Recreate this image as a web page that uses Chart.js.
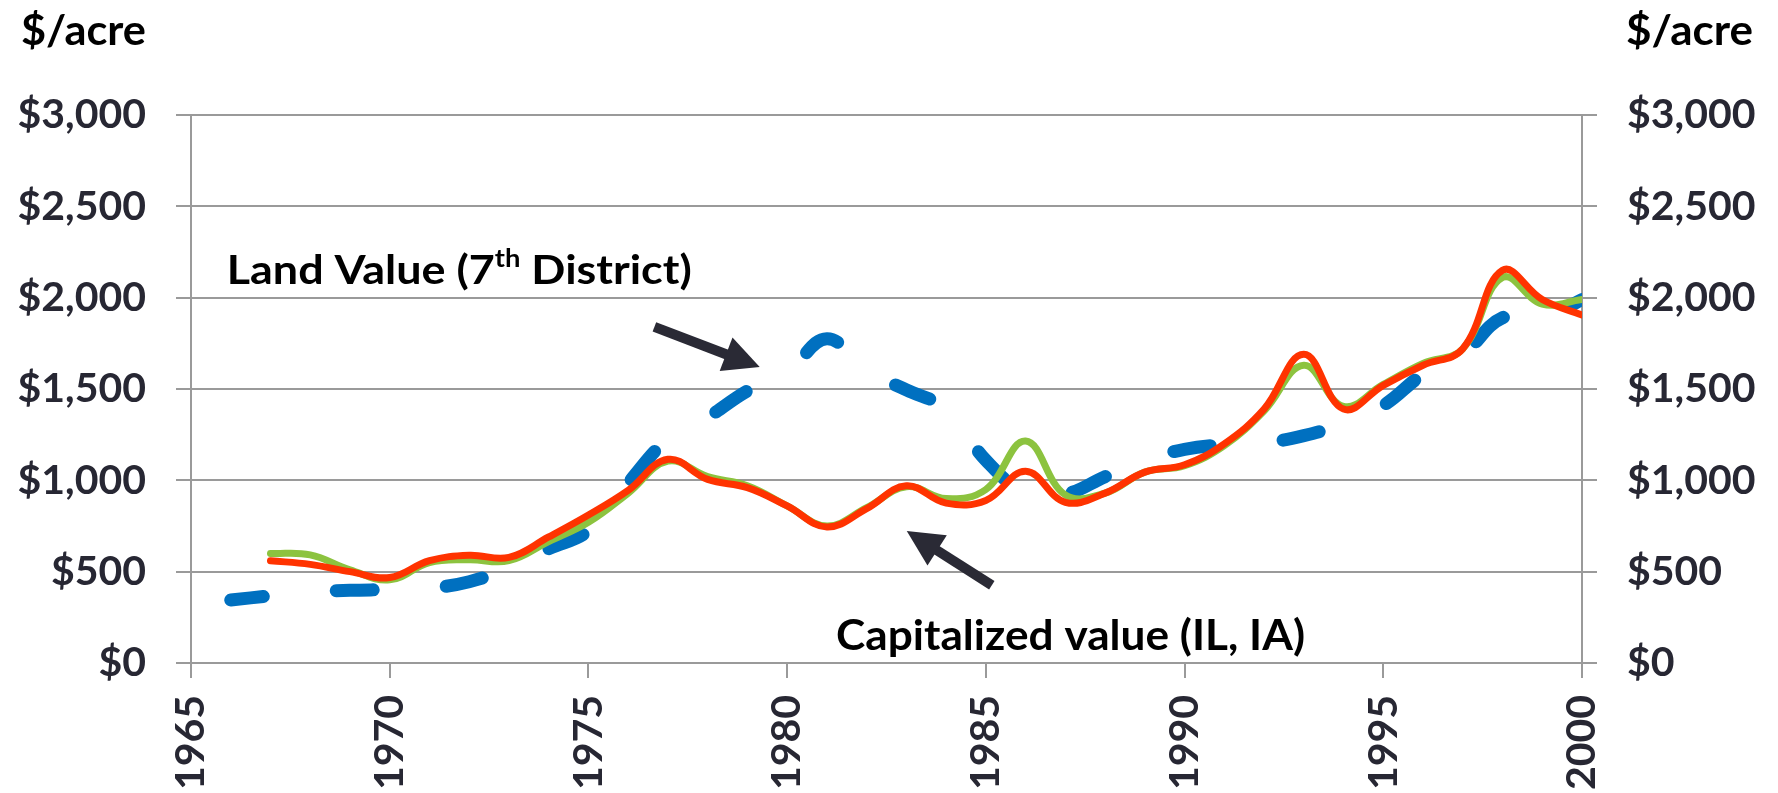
<!DOCTYPE html>
<html><head><meta charset="utf-8">
<script src="https://cdn.jsdelivr.net/npm/chart.js@4.4.1/dist/chart.umd.min.js"></script>
<style>html,body{margin:0;padding:0;background:#fff;}#wrap{position:relative;width:1778px;height:793px;}canvas{display:block;}</style>
</head><body><div id="wrap"><canvas id="c" width="1778" height="793"></canvas></div>
<script>
// ---- data ----
const landYears = [1966,1967,1968,1969,1970,1971,1972,1973,1974,1975,1976,1977,1978,1979,1980,1981,1982,1983,1984,1985,1986,1987,1988,1989,1990,1991,1992,1993,1994,1995,1996,1997,1998,1999,2000];
const landValues = [345,368,388,398,402,410,445,520,625,725,985,1225,1345,1490,1590,1775,1600,1495,1390,1110,935,925,1020,1110,1170,1195,1205,1245,1310,1410,1580,1690,1890,1885,1990];
const capYears = [1967,1968,1969,1970,1971,1972,1973,1974,1975,1976,1977,1978,1979,1980,1981,1982,1983,1984,1985,1986,1987,1988,1989,1990,1991,1992,1993,1994,1995,1996,1997,1998,1999,2000];
const capValuesGreen = [600,592,510,455,550,565,560,665,770,930,1105,1020,970,860,750,850,965,900,950,1215,920,930,1045,1080,1190,1380,1630,1405,1525,1640,1720,2110,1965,1990];
const capValuesRed = [560,540,500,468,560,590,578,690,810,945,1115,1005,960,860,745,845,970,875,890,1050,880,930,1045,1085,1200,1390,1690,1390,1520,1630,1720,2150,1990,1905];
const yTickValues = [0,500,1000,1500,2000,2500,3000];
const xTickValues = [1965,1970,1975,1980,1985,1990,1995,2000];
const unitLabel = '$/acre';
const landLabelParts = ['Land Value (7', 'th', ' District)'];
const capLabel = 'Capitalized value (IL, IA)';

// ---- styling ----
const FONT = 'Lato';
const TICK_COLOR = '#272733';
const GRID = '#9a9a9a';
const ARROW = '#2a2a35';

const toPts = (xs, ys) => xs.map((x, i) => ({x, y: ys[i]}));
const fmtMoney = v => '$' + Number(v).toLocaleString('en-US');

const notes = {
  land: {year: 1965.9, value: 2075, width: 465},
  cap: {year: 1981.23, value: 70, width: 469},
  arrows: [
    {from: [1976.66, 1840], to: [1979.31, 1620]},
    {from: [1985.15, 426], to: [1983.01, 722]}
  ]
};

function drawArrow(ctx, x1, y1, x2, y2) {
  const ang = Math.atan2(y2 - y1, x2 - x1);
  const headLen = 36, headW = 36, shaft = 10;
  const bx = x2 - Math.cos(ang) * headLen, by = y2 - Math.sin(ang) * headLen;
  ctx.save();
  ctx.strokeStyle = ARROW; ctx.fillStyle = ARROW;
  ctx.lineWidth = shaft; ctx.lineCap = 'butt';
  ctx.beginPath(); ctx.moveTo(x1, y1); ctx.lineTo(bx + Math.cos(ang) * 2, by + Math.sin(ang) * 2); ctx.stroke();
  const px = -Math.sin(ang) * headW / 2, py = Math.cos(ang) * headW / 2;
  ctx.beginPath(); ctx.moveTo(x2, y2); ctx.lineTo(bx + px, by + py); ctx.lineTo(bx - px, by - py); ctx.closePath(); ctx.fill();
  ctx.restore();
}

const annot = {
  id: 'annot',
  afterDraw(chart) {
    const ctx = chart.ctx, xs = chart.scales.x, ys = chart.scales.y;
    ctx.save();
    ctx.fillStyle = '#000';
    ctx.textBaseline = 'alphabetic';
    ctx.textAlign = 'left';
    ctx.font = `bold 42px ${FONT}`;
    let w = ctx.measureText(unitLabel).width;
    ctx.save(); ctx.translate(21, 45); ctx.scale(125 / w, 1); ctx.fillText(unitLabel, 0, 0); ctx.restore();
    ctx.save(); ctx.translate(chart.chartArea.right + 44, 45); ctx.scale(127 / w, 1); ctx.fillText(unitLabel, 0, 0); ctx.restore();
    const lx = xs.getPixelForValue(notes.land.year), ly = ys.getPixelForValue(notes.land.value);
    ctx.font = `bold 41px ${FONT}`;
    const w0 = ctx.measureText(landLabelParts[0]).width, w2 = ctx.measureText(landLabelParts[2]).width;
    ctx.font = `bold 25px ${FONT}`;
    const w1 = ctx.measureText(landLabelParts[1]).width;
    const f = notes.land.width / (w0 + w1 + w2);
    ctx.save(); ctx.translate(lx, ly); ctx.scale(f, 1);
    ctx.font = `bold 41px ${FONT}`; ctx.fillText(landLabelParts[0], 0, 0);
    ctx.font = `bold 25px ${FONT}`; ctx.fillText(landLabelParts[1], w0, -17);
    ctx.font = `bold 41px ${FONT}`; ctx.fillText(landLabelParts[2], w0 + w1, 0);
    ctx.restore();
    const cx = xs.getPixelForValue(notes.cap.year), cy = ys.getPixelForValue(notes.cap.value);
    ctx.font = `bold 42px ${FONT}`;
    const cw = ctx.measureText(capLabel).width;
    ctx.save(); ctx.translate(cx, cy); ctx.scale(notes.cap.width / cw, 1); ctx.fillText(capLabel, 0, 0); ctx.restore();
    ctx.restore();
    notes.arrows.forEach(a => drawArrow(ctx,
      xs.getPixelForValue(a.from[0]), ys.getPixelForValue(a.from[1]),
      xs.getPixelForValue(a.to[0]), ys.getPixelForValue(a.to[1])));
  }
};

const tickFont = {family: FONT, size: 41, weight: 'bold'};

new Chart(document.getElementById('c'), {
  type: 'line',
  data: {
    datasets: [
      {label: 'Capitalized value (red)', data: toPts(capYears, capValuesRed), borderColor: '#ff3300', borderWidth: 7, tension: 0.4, pointRadius: 0, order: 0, borderCapStyle: 'round', borderJoinStyle: 'round'},
      {label: 'Capitalized value (green)', data: toPts(capYears, capValuesGreen), borderColor: '#8cc33f', borderWidth: 7, tension: 0.4, pointRadius: 0, order: 1, borderCapStyle: 'round', borderJoinStyle: 'round'},
      {label: 'Land Value (7th District)', data: toPts(landYears, landValues), borderColor: '#0070c0', borderWidth: 13, borderDash: [37, 73], borderDashOffset: 4, borderCapStyle: 'round', borderJoinStyle: 'round', tension: 0.4, pointRadius: 0, order: 2}
    ]
  },
  options: {
    responsive: false, animation: false, devicePixelRatio: 1,
    layout: {padding: {top: 115, left: 0, right: 0, bottom: 0}},
    plugins: {legend: {display: false}, tooltip: {enabled: false}, title: {display: false}},
    scales: {
      x: {
        type: 'linear', position: 'bottom', min: 1965, max: 2000,
        afterBuildTicks: s => { s.ticks = xTickValues.map(v => ({value: v})); },
        afterFit: s => { s.height = 130; },
        grid: {drawOnChartArea: false, drawTicks: true, tickLength: 15, color: GRID, lineWidth: 2},
        border: {display: true, color: GRID, width: 2},
        ticks: {font: tickFont, color: TICK_COLOR, minRotation: 90, maxRotation: 90, autoSkip: false, padding: 17, callback: v => String(v)}
      },
      y: {
        type: 'linear', position: 'left', min: 0, max: 3000,
        afterBuildTicks: s => { s.ticks = yTickValues.map(v => ({value: v})); },
        afterFit: s => { s.width = 191; },
        grid: {color: GRID, lineWidth: 2, tickLength: 15, drawTicks: true},
        border: {display: true, color: GRID, width: 2},
        ticks: {font: tickFont, color: TICK_COLOR, padding: 30, callback: fmtMoney}
      },
      y2: {
        type: 'linear', position: 'right', min: 0, max: 3000,
        afterBuildTicks: s => { s.ticks = yTickValues.map(v => ({value: v})); },
        afterFit: s => { s.width = 196; },
        grid: {drawOnChartArea: false, color: GRID, lineWidth: 2, tickLength: 15, drawTicks: true},
        border: {display: true, color: GRID, width: 2},
        ticks: {font: tickFont, color: TICK_COLOR, padding: 30, callback: fmtMoney}
      }
    }
  },
  plugins: [annot]
});
</script></body></html>
